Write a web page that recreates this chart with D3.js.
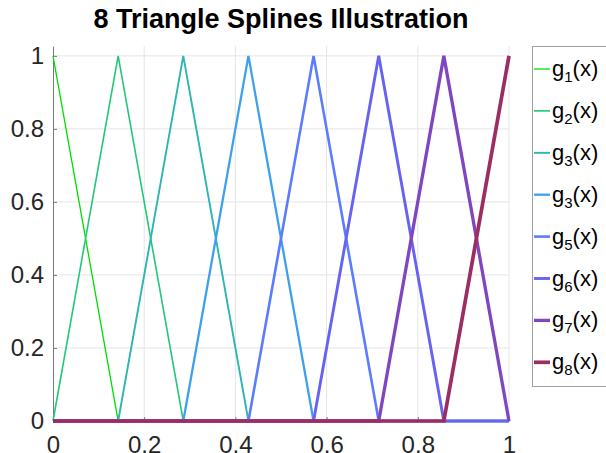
<!DOCTYPE html>
<html>
<head>
<meta charset="utf-8">
<script src="https://cdn.jsdelivr.net/npm/d3@7"></script>
<style>
  body { margin: 0; background: #fff; }
  svg { font-family: "Liberation Sans", Arial, Helvetica, sans-serif; }
</style>
</head>
<body>
<svg id="chart" width="606" height="453"></svg>
<script>
// knots on [0, 1]
const knots = [0, 0.1429, 0.2857, 0.4286, 0.5714, 0.7143, 0.8571, 1];
// value of each spline at each knot
const g1 = [1, 0, 0, 0, 0, 0, 0, 0];
const g2 = [0, 1, 0, 0, 0, 0, 0, 0];
const g3 = [0, 0, 1, 0, 0, 0, 0, 0];
const g4 = [0, 0, 0, 1, 0, 0, 0, 0];
const g5 = [0, 0, 0, 0, 1, 0, 0, 0];
const g6 = [0, 0, 0, 0, 0, 1, 0, 0];
const g7 = [0, 0, 0, 0, 0, 0, 1, 0];
const g8 = [0, 0, 0, 0, 0, 0, 0, 1];
const seriesNames = ['1', '2', '3', '3', '5', '6', '7', '8']; // subscripts as shown in legend
const xTicks = [0, 0.2, 0.4, 0.6, 0.8, 1];
const yTicks = [0, 0.2, 0.4, 0.6, 0.8, 1];

const colors = ['#00dd00', '#22c77a', '#2db5b2', '#3fa0ee', '#5b7cff', '#6763f2', '#8046c0', '#9b2d62'];
const widths = [1.3, 1.6, 1.9, 2.3, 2.6, 2.9, 3.3, 3.7];

const svg = d3.select('svg#chart');
const series = [g1, g2, g3, g4, g5, g6, g7, g8];

const x = d3.scaleLinear().domain([0, 1]).range([53, 509]);
const y = d3.scaleLinear().domain([0, 1.027]).range([421, 46]);

// grid
const grid = svg.append('g').attr('stroke', '#e5e5e5').attr('stroke-width', 1);
xTicks.slice(1).forEach(t => {
  grid.append('line').attr('x1', x(t)).attr('x2', x(t)).attr('y1', y(0)).attr('y2', y(1.027));
});
yTicks.slice(1).forEach(t => {
  grid.append('line').attr('x1', x(0)).attr('x2', x(1)).attr('y1', y(t)).attr('y2', y(t));
});

// axes (MATLAB style: inward ticks, no box)
const xAxis = svg.append('g')
    .attr('transform', `translate(0,${y(0)})`)
    .call(d3.axisBottom(x).tickValues(xTicks).tickSizeInner(-4).tickSizeOuter(0).tickPadding(15)
      .tickFormat(d => d3.format('~g')(d)));
const yAxis = svg.append('g')
    .attr('transform', `translate(${x(0)},0)`)
    .call(d3.axisLeft(y).tickValues(yTicks).tickSizeInner(-4).tickSizeOuter(0).tickPadding(9)
      .tickFormat(d => d3.format('~g')(d)));
[xAxis, yAxis].forEach(a => {
  a.select('.domain').attr('stroke', '#7a7a7a');
  a.selectAll('.tick line').attr('stroke', '#7a7a7a');
  a.selectAll('.tick text').attr('fill', '#262626').attr('font-size', 24);
});
xAxis.selectAll('.tick text').attr('dy', '0.71em');

// splines
const line = d3.line()
    .x((d, i) => x(knots[i]))
    .y(d => y(d));
series.forEach((s, k) => {
  svg.append('path')
      .datum(s)
      .attr('d', line)
      .attr('fill', 'none')
      .attr('stroke', colors[k])
      .attr('stroke-width', widths[k])
      .attr('stroke-linejoin', 'miter');
});

// title
svg.append('text')
    .attr('x', 281).attr('y', 28)
    .attr('text-anchor', 'middle')
    .attr('font-size', 27).attr('font-weight', 'bold')
    .attr('fill', '#000')
    .text('8 Triangle Splines Illustration');

// legend
const lg = svg.append('g');
lg.append('rect')
    .attr('x', 532.5).attr('y', 46.5).attr('width', 80).attr('height', 340)
    .attr('fill', '#fff').attr('stroke', '#a0a0a0').attr('stroke-width', 1);
seriesNames.forEach((n, k) => {
  const cy = 69 + k * 41.9;
  lg.append('line')
      .attr('x1', 534).attr('x2', 550).attr('y1', cy).attr('y2', cy)
      .attr('stroke', colors[k]).attr('stroke-width', widths[k]);
  const t = lg.append('text').attr('x', 552).attr('y', cy + 7)
      .attr('font-size', 22).attr('fill', '#000');
  t.append('tspan').text('g');
  t.append('tspan').attr('font-size', 15).attr('dy', 6).text(n);
  t.append('tspan').attr('dy', -6).text('(x)');
});
</script>
</body>
</html>
